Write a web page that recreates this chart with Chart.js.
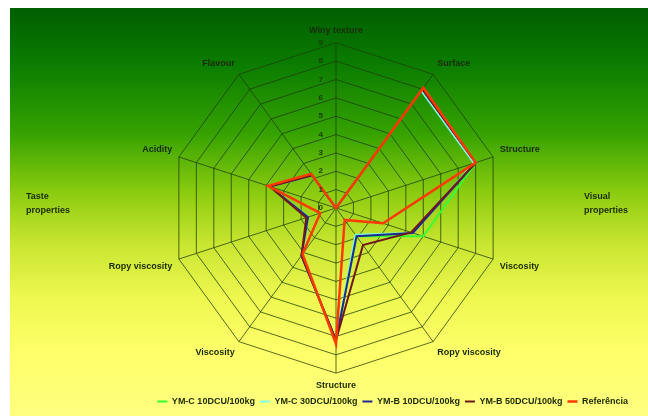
<!DOCTYPE html>
<html>
<head>
<meta charset="UTF-8">
<script src="https://cdn.jsdelivr.net/npm/chart.js"></script>
<style>
  body { margin: 0; background: #fff; }
  #bg {
    position: absolute; left: 10px; top: 8px; right: 0; bottom: 0;
    background: linear-gradient(to bottom, #005e00 0px, #0a7c00 55px, #35a200 125px, #8ccc10 185px,
      #c8e530 235px, #eef850 290px, #ffff6a 345px, #ffff80 408px);
  }
  #box { position: absolute; left: 0; top: 0; width: 648px; height: 416px; }
</style>
</head>
<body>
<div id="bg"></div>
<div id="box"><canvas id="chartRadar"></canvas></div>

<script>
  // eixos (sentido horário a partir do topo)
  const axes = ['Winy texture', 'Surface', 'Structure', 'Viscosity', 'Ropy viscosity',
    'Structure', 'Viscosity', 'Ropy viscosity', 'Acidity', 'Flavour']
  const tickValues = [0, 1, 2, 3, 4, 5, 6, 7, 8, 9]

  const ymc10 = [0, 8.0, 8.0, 5.0, 1.9, 7.2, 3.2, 1.6, 3.8, 2.2]
  const ymc30 = [0, 7.9, 7.9, 4.4, 1.8, 7.2, 3.2, 1.6, 3.8, 2.2]
  const ymb10 = [0, 8.0, 8.0, 4.4, 1.9, 7.2, 3.2, 1.6, 3.8, 2.2]
  const ymb50 = [0, 8.0, 8.0, 4.3, 2.5, 7.2, 3.2, 1.7, 3.8, 2.2]
  const referencia = [0, 8.1, 8.0, 2.7, 0.8, 7.4, 3.1, 0.9, 3.9, 2.3]

  const fontBold = { family: 'Liberation Sans', weight: 'bold', size: 9 }

  // textos laterais + rótulos da escala
  const extras = {
    id: 'extras',
    afterDraw(chart) {
      const ctx = chart.ctx
      const scale = chart.scales.r
      ctx.save()
      ctx.font = 'bold 8px "Liberation Sans"'
      ctx.fillStyle = '#1c3a00'
      ctx.textAlign = 'right'
      ctx.textBaseline = 'middle'
      tickValues.forEach(function (v) {
        const p = scale.getPointPositionForValue(0, v)
        ctx.fillText(String(v), p.x - 13, p.y)
      })
      ctx.font = 'bold 9px "Liberation Sans"'
      ctx.fillStyle = '#1a2a00'
      ctx.textAlign = 'left'
      ctx.fillText('Taste', 26, 197)
      ctx.fillText('properties', 26, 211)
      ctx.fillText('Visual', 584, 197)
      ctx.fillText('properties', 584, 211)
      ctx.restore()
    }
  }

  function serie(label, data, color, width) {
    return {
      label: label,
      data: data,
      borderColor: color,
      backgroundColor: color,
      borderWidth: width,
      pointRadius: 0,
      fill: false
    }
  }

  // ordem invertida para a Referência ficar por cima
  new Chart(document.getElementById('chartRadar'), {
    type: 'radar',
    data: {
      labels: axes,
      datasets: [
        serie('Referência', referencia, '#ff3a00', 2.5),
        serie('YM-B 50DCU/100kg', ymb50, '#701818', 2),
        serie('YM-B 10DCU/100kg', ymb10, '#1a2a90', 2),
        serie('YM-C 30DCU/100kg', ymc30, '#80ffe0', 2),
        serie('YM-C 10DCU/100kg', ymc10, '#33ff33', 2)
      ]
    },
    options: {
      responsive: true,
      maintainAspectRatio: false,
      animation: false,
      layout: { padding: { left: 39, top: 25, right: 15, bottom: 0 } },
      plugins: {
        legend: {
          position: 'bottom',
          align: 'end',
          labels: {
            usePointStyle: true,
            pointStyle: 'line',
            pointStyleWidth: 10,
            boxHeight: 2,
            padding: 5,
            color: '#1a2a00',
            font: { family: 'Liberation Sans', weight: 'bold', size: 9 },
            sort: function (a, b) { return b.datasetIndex - a.datasetIndex }
          }
        },
        tooltip: { enabled: false }
      },
      scales: {
        r: {
          min: 0,
          max: 9,
          ticks: { stepSize: 1, display: false },
          grid: { color: 'rgba(30,60,0,0.75)', lineWidth: 1 },
          angleLines: { color: 'rgba(30,60,0,0.75)', lineWidth: 1 },
          pointLabels: { color: '#1a2a00', font: fontBold, padding: 7 }
        }
      }
    },
    plugins: [extras]
  })
</script>
</body>
</html>
